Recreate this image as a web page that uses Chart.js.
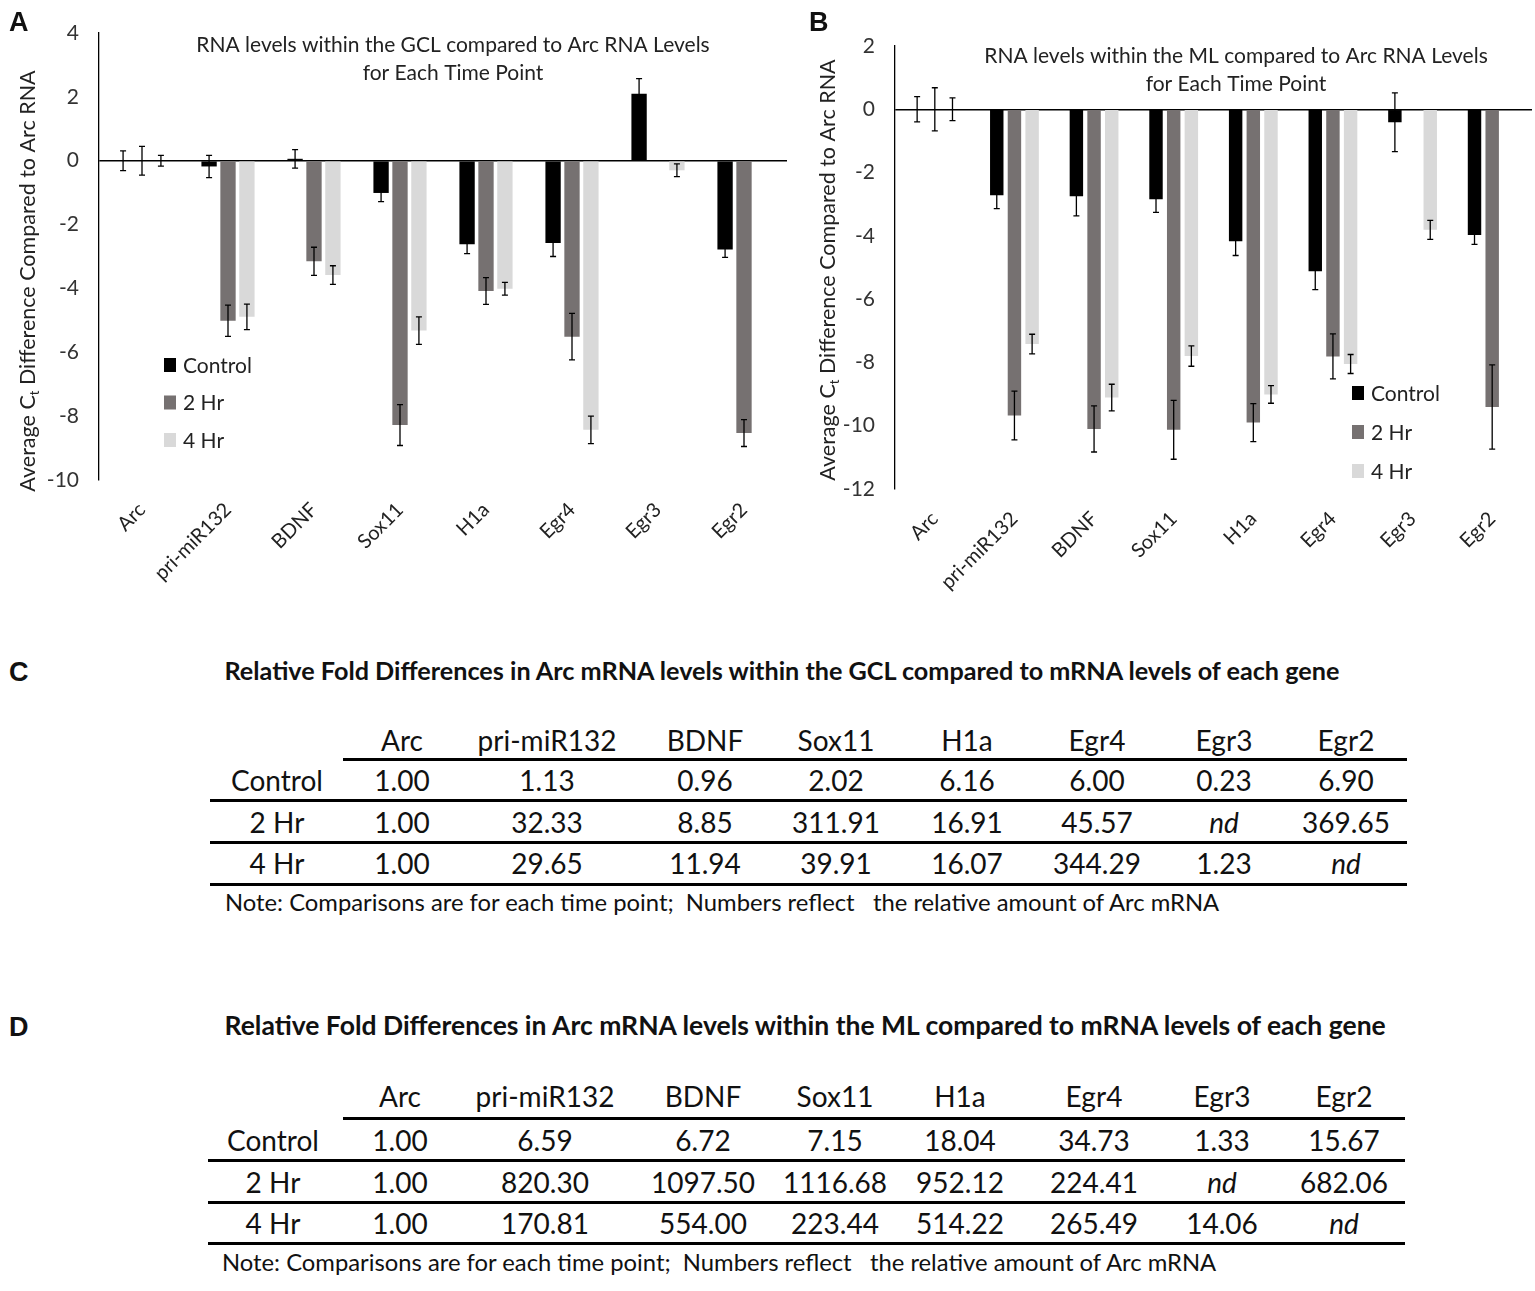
<!DOCTYPE html>
<html><head><meta charset="utf-8">
<script src="https://cdn.jsdelivr.net/npm/chart.js@4.4.1/dist/chart.umd.min.js"></script>
<style>
html,body{margin:0;padding:0;background:#fff}
body{width:1535px;height:1291px;position:relative;overflow:hidden;font-family:Lato,'Open Sans',sans-serif;color:#111}
.abs{position:absolute}
.panel{font-family:'Liberation Sans',Arial,sans-serif;font-weight:bold;font-size:27px;line-height:30px;z-index:5}
.cell{position:absolute;width:220px;text-align:center;font-size:28px;line-height:34px;white-space:nowrap}
.ttl{position:absolute;font-weight:bold;line-height:30px;white-space:nowrap}
.note{position:absolute;font-size:23.8px;line-height:28px;white-space:pre}
.hl{position:absolute;height:3px;background:#000}
</style></head><body>
<div class="abs" style="left:0;top:0"><canvas id="cA" width="800" height="620"></canvas></div>
<div class="abs" style="left:800px;top:0"><canvas id="cB" width="735" height="620"></canvas></div>
<div class="abs panel" style="left:9px;top:7px">A</div>
<div class="abs panel" style="left:809px;top:7px">B</div>
<div class="abs panel" style="left:9px;top:657px">C</div>
<div class="abs panel" style="left:9px;top:1012px">D</div>
<div id="tables"></div>
<script>
// ---------- data ----------
const categories = ['Arc','pri-miR132','BDNF','Sox11','H1a','Egr4','Egr3','Egr2'];
const seriesNames = ['Control','2 Hr','4 Hr'];

// Panel A (GCL): average Ct difference vs Arc
const gclControl    = [0, -0.18, 0.06, -1.01, -2.62, -2.58, 2.10, -2.78];
const gclControlErr = [0.31, 0.35, 0.29, 0.27, 0.29, 0.42, 0.47, 0.25];
const gcl2Hr        = [0, -5.01, -3.15, -8.28, -4.08, -5.51, null, -8.53];
const gcl2HrErr     = [0.45, 0.49, 0.44, 0.64, 0.42, 0.73, null, 0.42];
const gcl4Hr        = [0, -4.89, -3.58, -5.32, -4.01, -8.43, -0.30, null];
const gcl4HrErr     = [0.17, 0.40, 0.29, 0.43, 0.20, 0.43, 0.20, null];

// Panel B (ML)
const mlControl     = [0, -2.72, -2.75, -2.84, -4.17, -5.12, -0.41, -3.97];
const mlControlErr  = [0.40, 0.42, 0.62, 0.42, 0.45, 0.58, 0.93, 0.30];
const ml2Hr         = [0, -9.68, -10.10, -10.13, -9.90, -7.81, null, -9.41];
const ml2HrErr      = [0.68, 0.77, 0.73, 0.93, 0.60, 0.71, null, 1.33];
const ml4Hr         = [0, -7.42, -9.11, -7.80, -9.01, -8.05, -3.81, null];
const ml4HrErr      = [0.36, 0.31, 0.42, 0.32, 0.28, 0.30, 0.30, null];

const gclTitle = ['RNA levels within the GCL compared to Arc RNA Levels','for Each Time Point'];
const mlTitle  = ['RNA levels within the ML compared to Arc RNA Levels','for Each Time Point'];

// Tables C and D: relative fold differences
const tableRowLabels = ['Control','2 Hr','4 Hr'];
const gclFoldControl = ['1.00','1.13','0.96','2.02','6.16','6.00','0.23','6.90'];
const gclFold2Hr     = ['1.00','32.33','8.85','311.91','16.91','45.57','nd','369.65'];
const gclFold4Hr     = ['1.00','29.65','11.94','39.91','16.07','344.29','1.23','nd'];
const mlFoldControl  = ['1.00','6.59','6.72','7.15','18.04','34.73','1.33','15.67'];
const mlFold2Hr      = ['1.00','820.30','1097.50','1116.68','952.12','224.41','nd','682.06'];
const mlFold4Hr      = ['1.00','170.81','554.00','223.44','514.22','265.49','14.06','nd'];
const tableCTitle = 'Relative Fold Differences in Arc mRNA levels within the GCL compared to mRNA levels of each gene';
const tableDTitle = 'Relative Fold Differences in Arc mRNA levels within the ML compared to mRNA levels of each gene';
const tableNote = 'Note: Comparisons are for each time point;  Numbers reflect   the relative amount of Arc mRNA';

// ---------- plugins ----------
const errorBars = {
  id:'errorBars',
  afterDatasetsDraw(chart){
    const ctx = chart.ctx, ys = chart.scales.y;
    chart.data.datasets.forEach((ds,i)=>{
      const meta = chart.getDatasetMeta(i);
      meta.data.forEach((bar,j)=>{
        const v = ds.data[j], e = ds.errors[j];
        if(v==null || e==null) return;
        const x = bar.x, y1 = ys.getPixelForValue(v+e), y2 = ys.getPixelForValue(v-e);
        ctx.save();
        ctx.strokeStyle='#000'; ctx.lineWidth=1.3;
        ctx.beginPath();
        ctx.moveTo(x,y1); ctx.lineTo(x,y2);
        ctx.moveTo(x-3,y1); ctx.lineTo(x+3,y1);
        ctx.moveTo(x-3,y2); ctx.lineTo(x+3,y2);
        ctx.stroke(); ctx.restore();
      });
    });
  }
};

const decor = {
  id:'decor',
  afterDraw(chart, args, o){
    const ctx = chart.ctx;
    ctx.save();
    ctx.fillStyle='#222';
    // title inside plot
    ctx.font = o.titleSize+'px Lato'; ctx.textAlign='center'; ctx.textBaseline='middle';
    o.title.forEach((t,i)=>ctx.fillText(t, o.titleX, o.titleY + i*o.titleGap));
    // legend
    ctx.textAlign='left';
    ctx.font = o.legendSize+'px Lato';
    chart.data.datasets.forEach((ds,i)=>{
      const y = o.legendY + i*o.legendGap;
      ctx.fillStyle = ds.backgroundColor;
      ctx.fillRect(o.legendX, y-7, 12, 14);
      ctx.fillStyle = '#222';
      ctx.fillText(ds.label, o.legendX+19, y+1);
    });
    // y-axis title with subscript
    ctx.translate(o.yTitleX, o.yTitleY); ctx.rotate(-Math.PI/2);
    const size = o.yTitleSize, f = size+'px Lato', fs = Math.round(size*0.62)+'px Lato';
    const p1='Average C', p2='t', p3=' Difference Compared to Arc RNA';
    ctx.font=f; const w1=ctx.measureText(p1).width, w3=ctx.measureText(p3).width;
    ctx.font=fs; const w2=ctx.measureText(p2).width;
    let x = -(w1+w2+w3)/2;
    ctx.textBaseline='middle';
    ctx.font=f; ctx.fillText(p1,x,0); x+=w1;
    ctx.font=fs; ctx.fillText(p2,x,size*0.32); x+=w2;
    ctx.font=f; ctx.fillText(p3,x,0);
    ctx.restore();
  }
};

function makeChart(id, c){
  const colors = ['#000000','#767171','#d9d9d9'];
  const sets = [[c.control,c.controlErr],[c.hr2,c.hr2Err],[c.hr4,c.hr4Err]];
  return new Chart(document.getElementById(id), {
    type:'bar',
    data:{labels:categories, datasets: sets.map((s,i)=>({
      label:seriesNames[i], data:s[0], errors:s[1], backgroundColor:colors[i],
      categoryPercentage:c.cp, barPercentage:c.bp, borderWidth:0
    }))},
    options:{
      responsive:false, animation:false, devicePixelRatio:1,
      layout:{padding:{top:c.padTop, right:c.padRight, left:0, bottom:0}},
      plugins:{legend:{display:false}, tooltip:{enabled:false}, decor:c.decor},
      scales:{
        x:{grid:{display:false}, border:{display:false},
           ticks:{maxRotation:45, minRotation:45, autoSkip:false, color:'#222', padding:c.xPad,
                  font:{family:'Lato', size:20}},
           afterFit(s){ s.height = c.xH; }},
        y:{min:c.min, max:c.max,
           ticks:{stepSize:2, color:'#333', padding:20, font:{family:'Lato', size:21}},
           grid:{color:ctx=>ctx.tick && ctx.tick.value===0 ? '#000' : 'rgba(0,0,0,0)', lineWidth:1.5, drawTicks:false},
           border:{display:true, color:'#000', width:1.3},
           afterFit(s){ s.width = c.yW; }}
      }
    },
    plugins:[errorBars, decor]
  });
}

makeChart('cA', {
  control:gclControl, controlErr:gclControlErr, hr2:gcl2Hr, hr2Err:gcl2HrErr, hr4:gcl4Hr, hr4Err:gcl4HrErr,
  min:-10, max:4, cp:0.66, bp:0.81, padTop:33, padRight:13, yW:99, xH:140, xPad:10,
  decor:{title:gclTitle, titleX:453, titleY:45, titleGap:28, titleSize:21,
         legendX:164, legendY:365, legendGap:37.5, legendSize:21,
         yTitleX:28, yTitleY:281, yTitleSize:21.5}
});
makeChart('cB', {
  control:mlControl, controlErr:mlControlErr, hr2:ml2Hr, hr2Err:ml2HrErr, hr4:ml4Hr, hr4Err:ml4HrErr,
  min:-12, max:2, cp:0.666, bp:0.76, padTop:46, padRight:3, yW:95, xH:131, xPad:10,
  decor:{title:mlTitle, titleX:436, titleY:56, titleGap:28, titleSize:21,
         legendX:552, legendY:393, legendGap:39, legendSize:21,
         yTitleX:28, yTitleY:270, yTitleSize:21.5}
});

// ---------- tables ----------
function buildTable(L){
  const root = document.getElementById('tables');
  const add = (cls, style, text) => { const d=document.createElement('div'); d.className=cls; Object.assign(d.style, style); if(text!=null) d.textContent=text; root.appendChild(d); return d; };
  const t = add('ttl', {top:(L.titleY-15)+'px', fontSize:L.titleSize+'px'}, L.title);
  t.style.left = (L.titleX - t.offsetWidth/2)+'px';
  const place = (txt, cx, cy) => {
    const d = add('cell', {left:(cx-110)+'px', top:(cy-17)+'px'}, txt);
    if(txt==='nd') d.style.fontStyle='italic';
  };
  categories.forEach((h,i)=>place(h, L.cols[i], L.rowY[0]));
  L.rows.forEach((r,ri)=>{
    place(tableRowLabels[ri], L.labelX, L.rowY[ri+1]);
    r.forEach((v,i)=>place(v, L.cols[i], L.rowY[ri+1]));
  });
  L.lines.forEach((ln)=>add('hl', {left:ln[0]+'px', width:(ln[2]-ln[0])+'px', top:(ln[1]-1.5)+'px'}));
  add('note', {left:L.noteX+'px', top:(L.noteY-14)+'px'}, tableNote);
}
buildTable({
  title:tableCTitle, titleX:782, titleY:670, titleSize:25.2,
  labelX:277, cols:[402,547,705,836,967,1097,1224,1346],
  rowY:[740,780,822,863],
  rows:[gclFoldControl, gclFold2Hr, gclFold4Hr],
  lines:[[343,759,1407],[210,800,1407],[210,842,1407],[210,884,1407]],
  noteX:225, noteY:902
});
buildTable({
  title:tableDTitle, titleX:805, titleY:1025, titleSize:26.5,
  labelX:273, cols:[400,545,703,835,960,1094,1222,1344],
  rowY:[1096,1140,1182,1223],
  rows:[mlFoldControl, mlFold2Hr, mlFold4Hr],
  lines:[[343,1118,1405],[208,1160,1405],[208,1202,1405],[208,1243,1405]],
  noteX:222, noteY:1262
});
</script>
</body></html>
